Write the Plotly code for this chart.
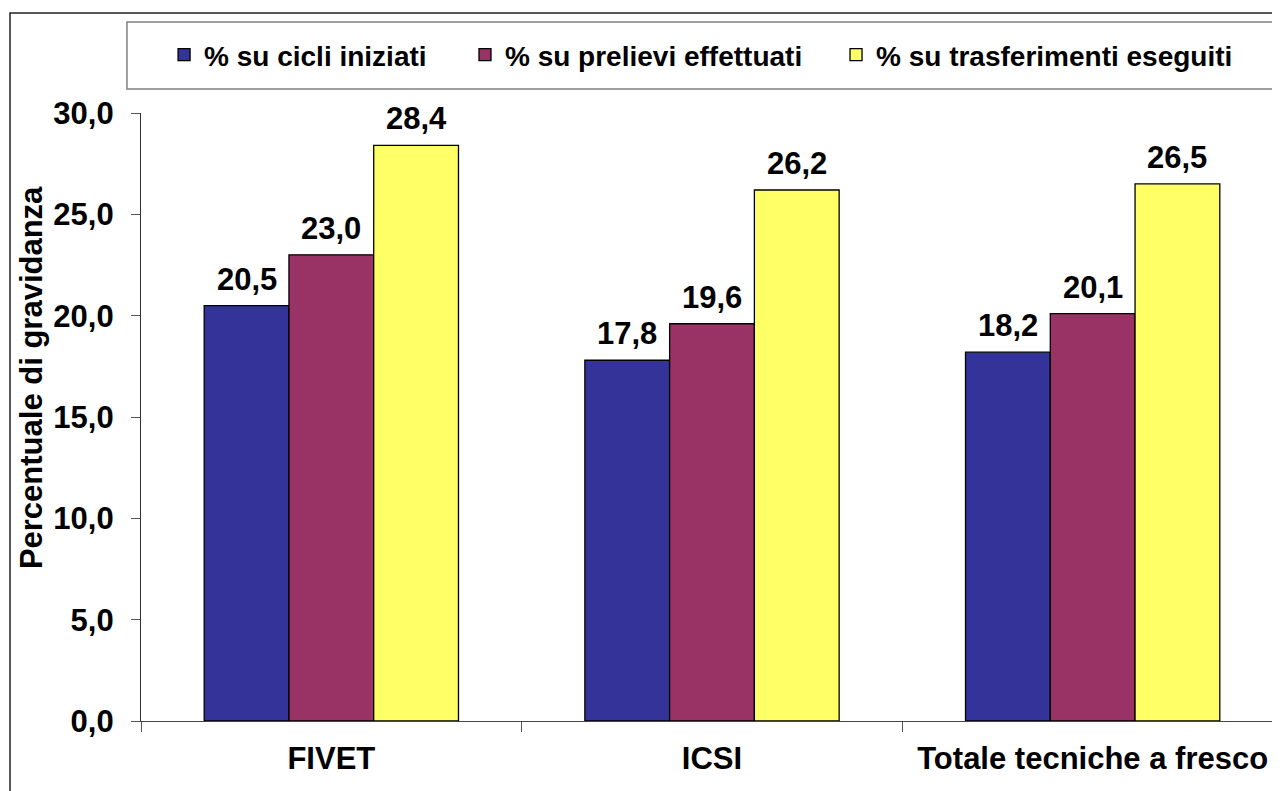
import plotly.graph_objects as go

# categorie e valori (percentuale di gravidanza)
categorie = ["FIVET", "ICSI", "Totale tecniche a fresco"]
serie_nomi = ["% su cicli iniziati", "% su prelievi effettuati", "% su trasferimenti eseguiti"]
cicli_iniziati = [20.5, 17.8, 18.2]
prelievi_effettuati = [23.0, 19.6, 20.1]
trasferimenti_eseguiti = [28.4, 26.2, 26.5]
colori = ["#333399", "#993366", "#FFFF66"]
y_ticks = [0, 5, 10, 15, 20, 25, 30]

FONT = "Liberation Sans, Arial, sans-serif"
W, H = 1280, 791
M_L, M_R, M_T, M_B = 133, 5, 105, 78
BARGAP = 0.332

fig = go.Figure()
serie = [cicli_iniziati, prelievi_effettuati, trasferimenti_eseguiti]
legende = ["legend", "legend2", "legend3"]
for nome, valori, colore, leg in zip(serie_nomi, serie, colori, legende):
    fig.add_trace(go.Bar(
        x=categorie,
        y=valori,
        name=nome,
        legend=leg,
        marker=dict(color=colore, line=dict(color="black", width=1.3)),
    ))

# etichette dei valori sopra le barre
larghezza_cat = (W - M_L - M_R) / len(categorie)
larghezza_barra = larghezza_cat * (1 - BARGAP) / len(serie)
for i, valori in enumerate(serie):
    for cat, v in zip(categorie, valori):
        fig.add_annotation(
            x=cat, y=v, text=f"{v:.1f}".replace(".", ","),
            showarrow=False, yanchor="bottom", yshift=7,
            xshift=(i - 1) * larghezza_barra,
            font=dict(family=FONT, size=31, color="black", weight="bold"),
        )

# titolo dell'asse y (non centrato sull'asse, come nell'originale)
fig.add_annotation(
    xref="paper", yref="paper", x=-0.0963, y=0.564,
    text="Percentuale di gravidanza", textangle=-90, showarrow=False,
    xanchor="center", yanchor="middle",
    font=dict(family=FONT, size=31, color="black", weight="bold"),
)

# cornice esterna (solo bordo alto e sinistro visibili) e riquadro della legenda
fig.add_shape(type="rect", xref="paper", yref="paper",
              x0=-0.1147, x1=1.05, y0=-0.3, y1=1.1645,
              line=dict(color="#222222", width=1.5), layer="below")
fig.add_shape(type="rect", xref="paper", yref="paper",
              x0=-0.0123, x1=0.9921, y0=1.0395, y1=1.1497,
              line=dict(color="#808080", width=1.5), fillcolor="white", layer="below")

leg_base = dict(orientation="h", y=1.0954, xanchor="left", yanchor="middle",
                bgcolor="rgba(0,0,0,0)", font=dict(family=FONT, size=28, weight="bold"))

fig.update_layout(
    width=W, height=H,
    margin=dict(l=M_L, r=M_R, t=M_T, b=M_B),
    paper_bgcolor="white", plot_bgcolor="white",
    separators=",.",
    barmode="group", bargap=BARGAP, bargroupgap=0,
    font=dict(family=FONT, size=31, color="black", weight="bold"),
    showlegend=True,
    legend=dict(leg_base, x=0.0202),
    legend2=dict(leg_base, x=0.2837),
    legend3=dict(leg_base, x=0.6086),
)

fig.update_xaxes(
    range=[-0.5, 2.5],
    showline=True, linecolor="#444444", linewidth=1.2,
    ticks="outside", tickson="boundaries", ticklen=10, tickcolor="#555555",
    tickfont=dict(size=31, weight="bold"), ticklabelstandoff=10,
    showgrid=False,
)
fig.update_yaxes(
    range=[0, 30], tickvals=y_ticks, tickformat=".1f",
    showline=True, linecolor="#333333", linewidth=1.2,
    ticks="outside", ticklen=9, tickcolor="#555555",
    tickfont=dict(size=31, weight="bold"), ticklabelstandoff=11,
    showgrid=False, zeroline=False,
)

fig.write_html("out.html")
